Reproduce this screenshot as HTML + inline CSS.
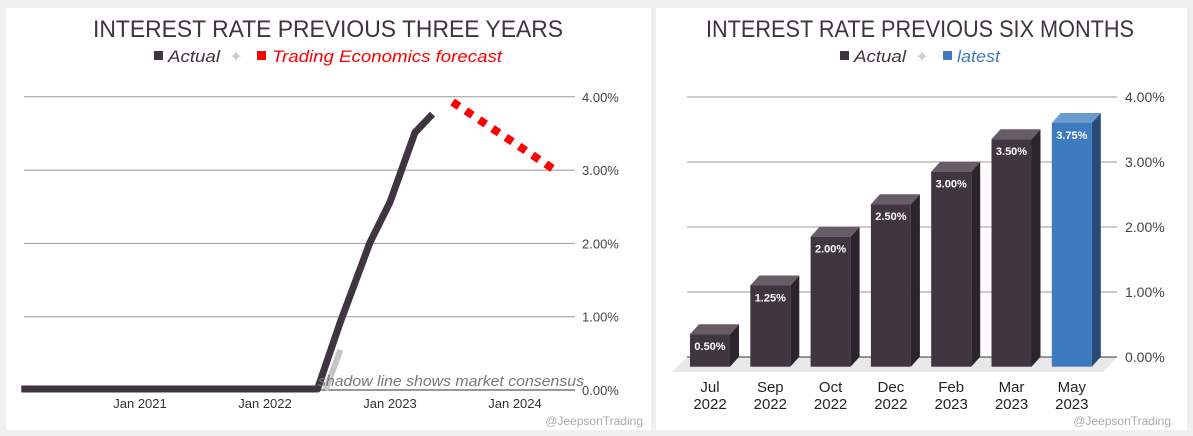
<!DOCTYPE html>
<html><head><meta charset="utf-8"><style>
html,body{margin:0;padding:0;background:#efefef;width:1193px;height:436px;overflow:hidden}
svg{display:block}
text{font-family:"Liberation Sans",sans-serif}
</style></head><body>
<svg id="s" width="1193" height="436">
<rect x="6" y="8" width="645" height="422" fill="#fff"/>
<rect x="656" y="8" width="531" height="422" fill="#fff"/>
<text x="328" y="37" text-anchor="middle" font-size="24" fill="#3f3440" textLength="470" lengthAdjust="spacingAndGlyphs">INTEREST RATE PREVIOUS THREE YEARS</text>
<g>
<rect x="154" y="51" width="9" height="9" fill="#3f3440"/>
<text x="168" y="62" font-size="17" font-style="italic" fill="#3f3440" textLength="52" lengthAdjust="spacingAndGlyphs">Actual</text>
<text x="236" y="62" font-size="16" fill="#ccc" text-anchor="middle">✦</text>
<rect x="257" y="51" width="9" height="9" fill="#f00"/>
<text x="272" y="62" font-size="17" font-style="italic" fill="#f00" textLength="230" lengthAdjust="spacingAndGlyphs">Trading Economics forecast</text>
</g>
<text x="920" y="37" text-anchor="middle" font-size="24" fill="#3f3440" textLength="428" lengthAdjust="spacingAndGlyphs">INTEREST RATE PREVIOUS SIX MONTHS</text>
<g>
<rect x="840" y="51" width="9" height="9" fill="#3f3440"/>
<text x="854" y="62" font-size="17" font-style="italic" fill="#3f3440" textLength="52" lengthAdjust="spacingAndGlyphs">Actual</text>
<text x="922" y="62" font-size="16" fill="#ccc" text-anchor="middle">✦</text>
<rect x="943" y="51" width="9" height="9" fill="#3d7abf"/>
<text x="957" y="62" font-size="17" font-style="italic" fill="#3d7abf" textLength="43" lengthAdjust="spacingAndGlyphs">latest</text>
</g>
<g id="L"></g><g id="R"></g>
<text x="318" y="386" font-size="15" font-style="italic" fill="#777" textLength="266" lengthAdjust="spacingAndGlyphs">shadow line shows market consensus</text>
<text x="643" y="425" text-anchor="end" font-size="12" fill="#aaa">@JeepsonTrading</text>
<text x="1171" y="425" text-anchor="end" font-size="12" fill="#aaa">@JeepsonTrading</text>
</svg>
<script>
const lineYears=[2020.05,2022.35,2022.42,2022.6,2022.84,2023.0,2023.2,2023.34];
const lineVals=[0,0,0,0.9,2.0,2.55,3.5,3.75];
const shadowYears=[2022.46,2022.58];
const shadowVals=[0,0.55];
const fcYears=[2023.5,2024.32];
const fcVals=[3.93,3.0];
const yTicks=[0,1,2,3,4];
const yTickLabels=["0.00%","1.00%","2.00%","3.00%","4.00%"];
const xTickYears=[2021,2022,2023,2024];
const xTickLabels=["Jan 2021","Jan 2022","Jan 2023","Jan 2024"];
const barCats=[["Jul","2022"],["Sep","2022"],["Oct","2022"],["Dec","2022"],["Feb","2023"],["Mar","2023"],["May","2023"]];
const barVals=[0.5,1.25,2.0,2.5,3.0,3.5,3.75];
const barLabels=["0.50%","1.25%","2.00%","2.50%","3.00%","3.50%","3.75%"];
const NS="http://www.w3.org/2000/svg";
function mk(p,t,a){const e=document.createElementNS(NS,t);for(const k in a)e.setAttribute(k,a[k]);p.appendChild(e);return e;}
const L=document.getElementById('L'),R=document.getElementById('R');
const lx=y=>390+(y-2023)*125, ly=v=>390-73.3*v;
yTicks.forEach((t,i)=>{
 const g=mk(L,'line',{x1:24,x2:575,y1:ly(t),y2:ly(t),stroke:t?'#999':'#333','stroke-width':1});
 
 
 const tx=mk(L,'text',{x:582,y:ly(t)+5,'font-size':13,fill:'#444'});tx.textContent=yTickLabels[i];
 
 
});
xTickYears.forEach((y,i)=>{
 const tx=mk(L,'text',{x:lx(y),y:408,'font-size':13,fill:'#333','text-anchor':'middle'});tx.textContent=xTickLabels[i];
 
 
});
const sh=mk(L,'polyline',{points:shadowYears.map((y,i)=>(lx(y)+3)+','+ly(shadowVals[i])).join(' '),fill:'none',stroke:'#c8c4c8','stroke-width':6});


const pl=mk(L,'polyline',{points:lineYears.map((y,i)=>lx(y)+','+(ly(lineVals[i])-1)).join(' '),fill:'none',stroke:'#3f3440','stroke-width':7,'stroke-linejoin':'round'});


const fc=mk(L,'polyline',{points:fcYears.map((y,i)=>lx(y)+','+ly(fcVals[i])).join(' '),fill:'none',stroke:'#f00','stroke-width':8,'stroke-dasharray':'8 8'});


const ry=v=>357-65*v, base=366.7, bx=i=>690+i*60.3, bw=40, d=9, dy=10;
const fl=mk(R,'polygon',{points:`672,372 1103,372 1117,357 687,357`,fill:'#e8e8e8'});


yTicks.forEach((t,i)=>{
 const g=mk(R,'line',{x1:687,x2:1117,y1:ry(t),y2:ry(t),stroke:t?'#999':'#333','stroke-width':1});
 
 
 const tx=mk(R,'text',{x:1125,y:ry(t)+5,'font-size':14,fill:'#444'});tx.textContent=yTickLabels[i];
 
 
});
barVals.forEach((v,i)=>{
 const last=i===barVals.length-1;
 const f=last?'#3d7abf':'#403541', s=last?'#284a75':'#2c242d', tp=last?'#6a9ad0':'#685c67';
 const x=bx(i), top=base-65*v;
 const g=mk(R,'g',{});
 
 
 mk(g,'polygon',{points:`${x+bw},${top} ${x+bw+d},${top-dy} ${x+bw+d},${base-dy} ${x+bw},${base}`,fill:s});
 mk(g,'polygon',{points:`${x},${top} ${x+d},${top-dy} ${x+bw+d},${top-dy} ${x+bw},${top}`,fill:tp});
 mk(g,'rect',{x:x,y:top,width:bw,height:base-top,fill:f});
 const lb=mk(g,'text',{x:x+bw/2,y:top+16,'font-size':11,'font-weight':'bold',fill:'#fff','text-anchor':'middle'});lb.textContent=barLabels[i];
 
 
 barCats[i].forEach((c,j)=>{
  const t=mk(R,'text',{x:x+bw/2,y:392+j*17,'font-size':15,fill:'#222','text-anchor':'middle'});t.textContent=c;
  
  
 });
});
</script>
</body></html>
